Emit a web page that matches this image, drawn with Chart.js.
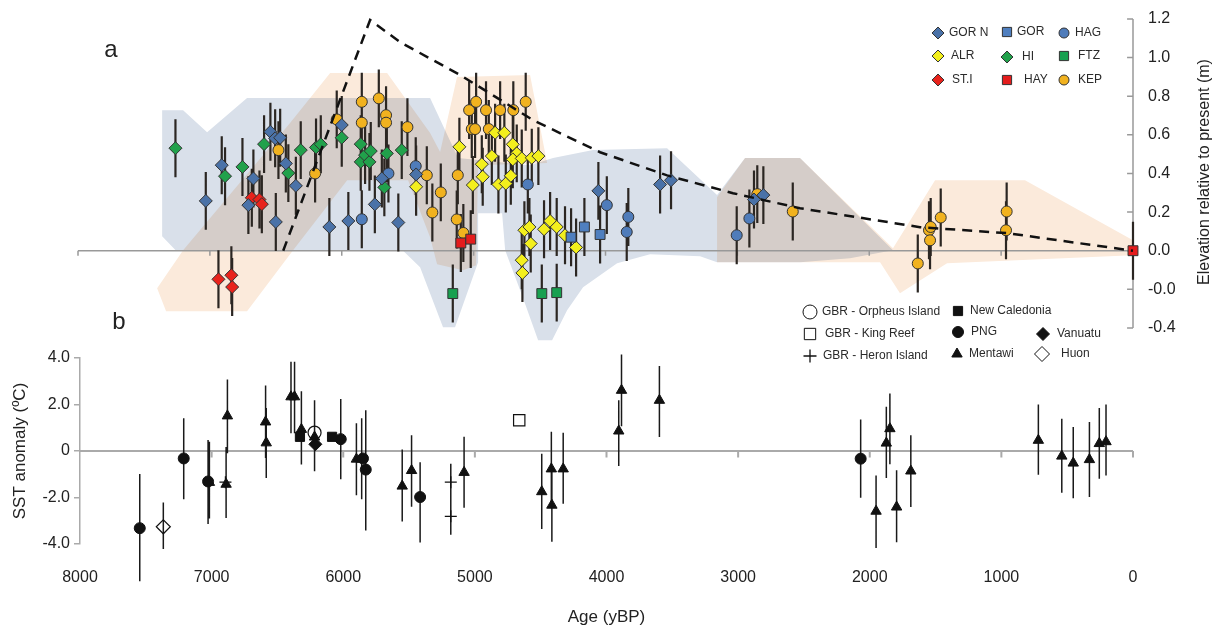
<!DOCTYPE html>
<html>
<head>
<meta charset="utf-8">
<script src="https://cdn.jsdelivr.net/npm/chart.js@4.4.1/dist/chart.umd.min.js"></script>
<style>
  body { margin: 0; background: #fff; }
  #wrap { position: relative; width: 1220px; height: 633px; }
  #topBox { position: absolute; left: 0; top: 0; width: 1220px; height: 353px; }
  #botBox { position: absolute; left: 0; top: 290px; width: 1220px; height: 343px; }
</style>
</head>
<body>
<div id="wrap">
  <div id="topBox"><canvas id="topChart"></canvas></div>
  <div id="botBox"><canvas id="botChart"></canvas></div>
</div>
<script>
// ---------- panel a : relative sea level (age yBP, elevation m) ----------
const gorNAge  = [7031, 6910, 6708, 6670, 6541, 6505, 6467, 6424, 6500, 6348, 6094, 6000, 5950, 5749, 5696, 5571, 5436, 4054, 3586, 3503, 2874, 2803]
const gorNElev = [0.258, 0.443, 0.236, 0.374, 0.616, 0.582, 0.585, 0.452, 0.149, 0.336, 0.123, 0.651, 0.154, 0.24, 0.374, 0.146, 0.395, 0.31, 0.343, 0.365, 0.265, 0.288]
const gorAge   = [4261, 4160, 4041]
const gorElev  = [0.07, 0.123, 0.084]
const hagAge   = [5848, 5646, 5439, 4589, 3990, 3827, 3839, 3005, 2909]
const hagElev  = [0.163, 0.40, 0.438, 0.343, 0.236, 0.175, 0.097, 0.08, 0.167]
const alrAge   = [5436, 5108, 5006, 4938, 4931, 4862, 4837, 4767, 4812, 4756, 4718, 4703, 4673, 4703, 4635, 4559, 4509, 4615, 4577, 4567, 4635, 4630, 4466, 4420, 4370, 4307, 4223]
const alrElev  = [0.331, 0.538, 0.34, 0.448, 0.383, 0.49, 0.611, 0.611, 0.343, 0.348, 0.388, 0.551, 0.504, 0.473, 0.478, 0.481, 0.49, 0.106, 0.123, 0.037, -0.049, -0.115, 0.111, 0.154, 0.123, 0.08, 0.017]
const hiAge    = [7261, 6885, 6753, 6589, 6405, 6311, 6195, 6159, 6000, 5856, 5856, 5823, 5790, 5780, 5658, 5677, 5545]
const hiElev   = [0.531, 0.386, 0.434, 0.552, 0.402, 0.521, 0.535, 0.551, 0.585, 0.552, 0.46, 0.495, 0.46, 0.516, 0.504, 0.328, 0.521]
const ftzAge   = [5158, 4483, 4370]
const ftzElev  = [-0.222, -0.222, -0.217]
const stiAge   = [6935, 6837, 6831, 6682, 6624, 6606]
const stiElev  = [-0.148, -0.127, -0.188, 0.274, 0.265, 0.241]
const hayAge   = [5097, 5022, 0]
const hayElev  = [0.04, 0.06, 0]
const kepAge   = [6480, 6202, 6038, 5848, 5848, 5719, 5664, 5664, 5502, 5355, 5313, 5249, 5120, 5128, 5078, 5034, 4981, 5014, 4989, 4906, 4885, 4799, 4699, 4605, 2849, 2580, 1632, 1547, 1534, 1539, 1458, 958, 963]
const kepElev  = [0.521, 0.40, 0.68, 0.771, 0.663, 0.789, 0.702, 0.663, 0.64, 0.391, 0.198, 0.302, 0.391, 0.162, 0.092, 0.728, 0.771, 0.63, 0.63, 0.728, 0.63, 0.728, 0.728, 0.771, 0.293, 0.203, -0.066, 0.106, 0.123, 0.054, 0.172, 0.203, 0.106]
const ELEV_ERR = 0.15   // half length of every vertical bar in panel a

// dashed sea-level curve
const dashAge  = [6444, 5785, 5557, 5102, 4549, 4041, 3533, 3033, 2525, 1615, 955, 0]
const dashElev = [0, 1.195, 1.08, 0.91, 0.676, 0.51, 0.39, 0.298, 0.22, 0.122, 0.091, 0]

// shaded envelopes (outline, in order round the shape)
const blueEnvAge   = [7362, 7203, 7021, 6718, 5330, 5118, 4572, 4398, 4094, 3533, 3154, 2942, 2525, 1820, 2146, 2525, 3154, 3283, 3662, 3912, 4170, 4291, 4405, 4511, 4633, 4761, 4784, 4966, 4966, 5141, 5232, 5406, 5535, 7256, 7362]
const blueEnvElev  = [0.728, 0.728, 0.614, 0.791, 0.791, 0.48, 0.443, 0.48, 0.521, 0.531, 0.288, 0.48, 0.48, 0.003, -0.039, -0.06, -0.06, -0.029, -0.018, -0.065, -0.189, -0.308, -0.464, -0.464, -0.231, 0.003, 0.194, 0.194, -0.06, -0.397, -0.397, -0.086, 0, 0, 0.075]
const orangeEnvAge  = [7400, 7203, 6392, 6088, 5656, 5330, 5254, 5126, 4572, 4443, 4966, 4981, 5080, 5277, 5330, 5497, 5959, 6369, 6718, 7332]
const orangeEnvElev = [-0.194, 0.003, 0.661, 0.92, 0.92, 0.609, 0.511, 0.899, 0.91, 0.454, 0.443, -0.075, -0.101, -0.07, 0.07, 0.365, 0.365, 0.003, -0.314, -0.314]
const orange2EnvAge  = [3154, 2942, 2525, 1820, 1501, 819, 0, 0, 1410, 1767, 1918, 2525, 3154]
const orange2EnvElev = [0.277, 0.48, 0.48, 0.013, 0.365, 0.365, 0.054, -0.023, -0.065, -0.22, -0.06, -0.06, -0.06]

const elevTicks = [-0.4, -0.2, 0, 0.2, 0.4, 0.6, 0.8, 1.0, 1.2]
const ageTicks  = [8000, 7000, 6000, 5000, 4000, 3000, 2000, 1000, 0]

// ---------- panel b : SST anomaly ----------
const mentAge = [7017, 6880, 6890, 6590, 6585, 6397, 6370, 6318, 6218, 5900, 5860, 5552, 5481, 5082, 4492, 4419, 4415, 4329, 3907, 3886, 3598, 1952, 1874, 1847, 1796, 1688, 719, 541, 454, 331, 256, 205]
const mentSst = [-1.35, 1.51, -1.43, 1.25, 0.35, 2.33, 2.33, 0.93, 0.6, -0.35, -0.35, -1.51, -0.84, -0.92, -1.75, -0.77, -2.33, -0.77, 0.86, 2.61, 2.18, -2.59, 0.34, 0.96, -2.41, -0.86, 0.46, -0.22, -0.52, -0.37, 0.32, 0.4]
const mentHi  = [0.4, 3.08, 0.17, 2.82, 1.85, 3.84, 3.84, 2.57, null, 1.19, 1.41, 0.06, 0.68, 0.61, -0.12, 0.83, -0.73, 0.79, 2.18, 4.15, 3.66, -1.05, 1.9, 2.47, -0.83, 0.68, 2.0, 1.39, 1.03, 1.25, 1.85, 2.0]
const mentLo  = [-2.9, -0.1, -2.88, -0.3, -1.16, 0.76, 0.76, -0.58, null, -1.9, -2.08, -3.03, -2.4, -2.44, -3.36, -2.3, -3.9, -2.27, -0.65, 1.06, 0.6, -4.17, -1.16, -0.57, -3.92, -2.41, -1.02, -1.8, -2.03, -1.98, -1.19, -1.05]
const pngAge  = [7546, 7212, 7027, 6019, 5850, 5829, 5416, 2069]
const pngSst  = [-3.32, -0.32, -1.31, 0.51, -0.32, -0.8, -1.98, -0.33]
const pngHi   = [-0.99, 1.41, 0.47, 2.24, null, 1.75, -0.48, 1.36]
const pngLo   = [-5.6, -2.08, -3.14, -1.21, null, -3.42, -3.94, -2.01]
const ncAge   = [6329, 6085]
const ncSst   = [0.61, 0.61]
const orphAge = [6218]
const orphSst = [0.79]
const orphHi  = [2.18]
const orphLo  = [-0.87]
const vanAge  = [6212]
const vanSst  = [0.29]
const kingAge = [4663]
const kingSst = [1.32]
const heronAge = [6895, 5183, 5183]
const heronSst = [-1.34, -1.34, -2.81]
const heronHi  = [null, -0.55, null]
const heronLo  = [null, -3.6, null]
const huonAge = [7367]
const huonSst = [-3.26]
const huonHi  = [-2.22]
const huonLo  = [-4.22]
const sstTicks = [-4, -2, 0, 2, 4]

const FONT = '"Liberation Sans", Arial, sans-serif'
const C = {
  gorN: '#4a72a8', gor: '#4f7fbf', hag: '#4f7cba', alr: '#f3ef1d', hi: '#21a14b',
  ftz: '#18a050', sti: '#e8231c', hay: '#e41c1c', kep: '#f1b21f'
}

// helpers
const pts = (xs, ys) => xs.map((x, i) => ({x: x, y: ys[i]}))
function bars(xs, hi, lo) {
  let out = []
  xs.forEach((x, i) => {
    if (hi[i] == null) return
    out.push({x: x, y: lo[i]}, {x: x, y: hi[i]}, {x: x, y: null})
  })
  return out
}
function symBars(xs, ys, e) {
  return bars(xs, ys.map(v => v + e), ys.map(v => v - e))
}
function tickSegs(xs, y, len) {
  let out = []
  xs.forEach(x => out.push({x: x, y: y}, {x: x, y: y - len}, {x: x, y: null}))
  return out
}

// multiply blend for the orange envelopes (needs to run before the filler)
const blend = {
  id: 'blend',
  beforeDatasetDraw(chart, args) {
    if (chart.data.datasets[args.index].multiply) {
      chart.ctx.save()
      chart.ctx.globalCompositeOperation = 'multiply'
    }
  },
  afterDatasetDraw(chart, args) {
    if (chart.data.datasets[args.index].multiply) chart.ctx.restore()
  }
}
try {
  const filler = Chart.registry.getPlugin('filler')
  Chart.unregister(filler)
  Chart.register(blend, filler)
} catch (e) {
  Chart.register(blend)
}

// legends, panel letters and rotated title
const annot = {
  id: 'annot',
  afterDraw(chart, args, opts) {
    const ctx = chart.ctx
    ;(opts.items || []).forEach(it => {
      ctx.save()
      ctx.fillStyle = it.fill || '#ffffff'
      ctx.strokeStyle = it.stroke || '#333'
      ctx.lineWidth = it.bw || 1
      Chart.helpers.drawPoint(ctx, {pointStyle: it.style, radius: it.r, rotation: 0, borderWidth: it.bw || 1}, it.x, it.y)
      ctx.restore()
      ctx.save()
      ctx.fillStyle = '#2a2a2a'
      ctx.font = '12px ' + FONT
      ctx.textAlign = 'left'
      ctx.textBaseline = 'middle'
      ctx.fillText(it.label, it.tx, it.y)
      ctx.restore()
    })
    ;(opts.texts || []).forEach(t => {
      ctx.save()
      ctx.translate(t.x, t.y)
      ctx.rotate(t.rot || 0)
      ctx.fillStyle = '#222'
      ctx.font = t.size + 'px ' + FONT
      ctx.textAlign = 'center'
      ctx.textBaseline = 'middle'
      ctx.fillText(t.text, 0, 0)
      ctx.restore()
    })
  }
}

function series(label, xs, ys, style, color, r, order) {
  return {
    label: label, data: pts(xs, ys), pointStyle: style, pointRadius: r, pointHoverRadius: r,
    backgroundColor: color, borderColor: '#333', pointBorderWidth: 1, order: order || 0, clip: false
  }
}
function lineSet(data, color, width, order, dash) {
  return {
    data: data, showLine: true, borderColor: color, borderWidth: width, borderDash: dash || [],
    pointRadius: 0, pointHoverRadius: 0, order: order, clip: false, spanGaps: false
  }
}
function envSet(xs, ys, color, order, multiply) {
  return {
    data: pts(xs, ys), showLine: true, fill: 'shape', backgroundColor: color, borderColor: 'rgba(0,0,0,0)',
    borderWidth: 0, pointRadius: 0, pointHoverRadius: 0, order: order, multiply: multiply
  }
}

// ---------- top chart ----------
const topBars = [].concat(
  symBars(gorNAge, gorNElev, ELEV_ERR), symBars(gorAge, gorElev, ELEV_ERR), symBars(hagAge, hagElev, ELEV_ERR),
  symBars(alrAge, alrElev, ELEV_ERR), symBars(hiAge, hiElev, ELEV_ERR), symBars(ftzAge, ftzElev, ELEV_ERR),
  symBars(stiAge, stiElev, ELEV_ERR), symBars(hayAge, hayElev, ELEV_ERR), symBars(kepAge, kepElev, ELEV_ERR)
)
const topAxisLine = [{x: 0, y: elevTicks[0]}, {x: 0, y: elevTicks[elevTicks.length - 1]}, {x: 0, y: null}]
  .concat(...elevTicks.map(v => [{x: 0, y: v}, {x: 45, y: v}, {x: 0, y: null}]))

new Chart(document.getElementById('topChart'), {
  type: 'scatter',
  data: {
    datasets: [
      series('GOR N', gorNAge, gorNElev, 'rectRot', C.gorN, 6.5),
      series('GOR', gorAge, gorElev, 'rect', C.gor, 7),
      series('HAG', hagAge, hagElev, 'circle', C.hag, 5.5),
      series('ALR', alrAge, alrElev, 'rectRot', C.alr, 6.5),
      series('HI', hiAge, hiElev, 'rectRot', C.hi, 6.5),
      series('FTZ', ftzAge, ftzElev, 'rect', C.ftz, 7),
      series('ST.I', stiAge, stiElev, 'rectRot', C.sti, 6.5),
      series('HAY', hayAge, hayElev, 'rect', C.hay, 7),
      series('KEP', kepAge, kepElev, 'circle', C.kep, 5.5),
      lineSet(pts(dashAge, dashElev), '#111', 2.5, -1, [10, 7]),
      lineSet(topBars, '#2b2622', 2.2, 2),
      lineSet([{x: ageTicks[0], y: 0}, {x: 0, y: 0}, {x: 0, y: null}].concat(tickSegs(ageTicks, 0, 0.026)), '#999', 1.5, 3),
      lineSet(topAxisLine, '#999', 1.5, 3),
      envSet(orangeEnvAge, orangeEnvElev, '#fbeadb', 4, true),
      envSet(orange2EnvAge, orange2EnvElev, '#fbeadb', 4, true),
      envSet(blueEnvAge, blueEnvElev, '#d9e0ea', 5, false)
    ]
  },
  plugins: [annot],
  options: {
    responsive: true,
    maintainAspectRatio: false,
    animation: false,
    events: [],
    layout: {padding: {left: 78, top: 19, right: 0, bottom: 0}},
    scales: {
      x: {type: 'linear', min: 0, max: 8000, reverse: true, display: false},
      y: {
        type: 'linear', position: 'right', min: -0.48, max: 1.2,
        afterBuildTicks: s => { s.ticks = elevTicks.map(v => ({value: v})) },
        afterFit: s => { s.width = 87 },
        grid: {display: false, drawTicks: true, tickLength: 15},
        border: {display: false},
        ticks: {
          padding: 0, color: '#222', font: {family: FONT, size: 16},
          callback: v => { const r = Math.round(v * 10) / 10; return r === -0.2 ? '-0.0' : r.toFixed(1) }
        }
      }
    },
    plugins: {
      legend: {display: false},
      tooltip: {enabled: false},
      annot: {
        items: [
          {label: 'GOR N', style: 'rectRot', fill: C.gorN, r: 6, x: 938, y: 33, tx: 949},
          {label: 'GOR', style: 'rect', fill: C.gor, r: 6.5, x: 1007, y: 32, tx: 1017},
          {label: 'HAG', style: 'circle', fill: C.hag, r: 5, x: 1064, y: 33, tx: 1075},
          {label: 'ALR', style: 'rectRot', fill: C.alr, r: 6, x: 938, y: 56, tx: 951},
          {label: 'HI', style: 'rectRot', fill: C.hi, r: 6, x: 1007, y: 57, tx: 1022},
          {label: 'FTZ', style: 'rect', fill: C.ftz, r: 6.5, x: 1064, y: 56, tx: 1078},
          {label: 'ST.I', style: 'rectRot', fill: C.sti, r: 6, x: 938, y: 80, tx: 952},
          {label: 'HAY', style: 'rect', fill: C.hay, r: 6.5, x: 1007, y: 80, tx: 1024},
          {label: 'KEP', style: 'circle', fill: C.kep, r: 5, x: 1064, y: 80, tx: 1078}
        ],
        texts: [
          {text: 'a', x: 111, y: 50, size: 24},
          {text: 'Elevation relative to present (m)', x: 1205, y: 172, size: 16, rot: -Math.PI / 2}
        ]
      }
    }
  }
})

// ---------- bottom chart ----------
const botBars = [].concat(
  bars(mentAge, mentHi, mentLo), bars(pngAge, pngHi, pngLo), bars(orphAge, orphHi, orphLo),
  bars(heronAge, heronHi, heronLo), bars(huonAge, huonHi, huonLo)
)
function bSeries(label, xs, ys, style, fill, r, bw) {
  return {
    label: label, data: pts(xs, ys), pointStyle: style, pointRadius: r, pointHoverRadius: r,
    backgroundColor: fill, borderColor: '#111', pointBorderWidth: bw || 1, order: 0, clip: false
  }
}

new Chart(document.getElementById('botChart'), {
  type: 'scatter',
  data: {
    datasets: [
      bSeries('GBR - Orpheus Island', orphAge, orphSst, 'circle', 'rgba(0,0,0,0)', 6.5, 1.2),
      bSeries('GBR - King Reef', kingAge, kingSst, 'rect', '#fff', 8, 1.2),
      bSeries('GBR - Heron Island', heronAge, heronSst, 'cross', '#111', 6, 1.3),
      bSeries('New Caledonia', ncAge, ncSst, 'rect', '#111', 6.5),
      bSeries('PNG', pngAge, pngSst, 'circle', '#111', 5.5),
      bSeries('Mentawi', mentAge, mentSst, 'triangle', '#111', 6),
      bSeries('Vanuatu', vanAge, vanSst, 'rectRot', '#111', 6.5),
      bSeries('Huon', huonAge, huonSst, 'rectRot', 'rgba(0,0,0,0)', 7, 1.2),
      lineSet(botBars, '#1a1a1a', 1.5, 1),
      lineSet([{x: ageTicks[0], y: 0}, {x: 0, y: 0}, {x: 0, y: null}].concat(tickSegs(ageTicks.slice(1), 0, 0.28)), '#aaa', 2, 3)
    ]
  },
  plugins: [annot],
  options: {
    responsive: true,
    maintainAspectRatio: false,
    animation: false,
    events: [],
    layout: {padding: {left: 0, top: 68, right: 87, bottom: 0}},
    scales: {
      x: {
        type: 'linear', min: 0, max: 8000, reverse: true,
        afterBuildTicks: s => { s.ticks = ageTicks.map(v => ({value: v})) },
        afterFit: s => { s.height = 89 },
        grid: {display: false, drawTicks: false},
        border: {display: false},
        ticks: {padding: 24, color: '#222', font: {family: FONT, size: 16}, callback: v => String(v)},
        title: {display: true, text: 'Age (yBP)', color: '#222', font: {family: FONT, size: 17}, padding: {top: 0, bottom: 5}}
      },
      y: {
        type: 'linear', position: 'left', min: -4, max: 4,
        afterBuildTicks: s => { s.ticks = sstTicks.map(v => ({value: v})) },
        afterFit: s => { s.width = 80 },
        grid: {drawOnChartArea: false, drawTicks: true, tickLength: 6, color: '#aaa', lineWidth: 1.5},
        border: {display: true, color: '#aaa', width: 1.5},
        ticks: {padding: 4, color: '#222', font: {family: FONT, size: 16}, callback: v => v === 0 ? '0' : v.toFixed(1)},
        title: {display: true, text: 'SST anomaly (ºC)', color: '#222', font: {family: FONT, size: 17}, padding: {top: 10, bottom: 0}}
      }
    },
    plugins: {
      legend: {display: false},
      tooltip: {enabled: false},
      annot: {
        items: [
          {label: 'GBR - Orpheus Island', style: 'circle', stroke: '#111', r: 7, x: 810, y: 22, tx: 822},
          {label: 'New Caledonia', style: 'rect', fill: '#111', stroke: '#111', r: 6.5, x: 958, y: 21, tx: 970},
          {label: 'GBR - King Reef', style: 'rect', stroke: '#111', r: 8, x: 810, y: 44, tx: 825},
          {label: 'PNG', style: 'circle', fill: '#111', stroke: '#111', r: 5.5, x: 958, y: 42, tx: 971},
          {label: 'Vanuatu', style: 'rectRot', fill: '#111', stroke: '#111', r: 6.5, x: 1043, y: 44, tx: 1057},
          {label: 'GBR - Heron Island', style: 'cross', stroke: '#111', bw: 1.3, r: 6.5, x: 810, y: 66, tx: 823},
          {label: 'Mentawi', style: 'triangle', fill: '#111', stroke: '#111', r: 6, x: 957, y: 64, tx: 969},
          {label: 'Huon', style: 'rectRot', stroke: '#111', r: 7.5, x: 1042, y: 64, tx: 1061}
        ],
        texts: [
          {text: 'b', x: 119, y: 32, size: 24}
        ]
      }
    }
  }
})
</script>
</body>
</html>
